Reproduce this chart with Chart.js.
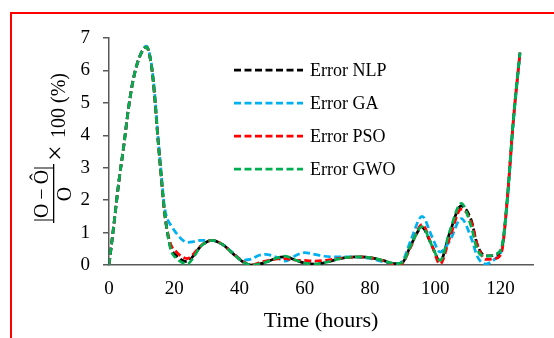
<!DOCTYPE html>
<html>
<head>
<meta charset="utf-8">
<script src="https://cdn.jsdelivr.net/npm/chart.js@4/dist/chart.umd.min.js"></script>
<style>
  html, body { margin: 0; padding: 0; background: #fff; overflow: hidden; }
</style>
</head>
<body>
<canvas id="chart" width="554" height="338"></canvas>
<script>
/* -------- DATA -------- */
const hours = [0, 1.5, 3, 4.5, 6, 7.5, 9.5, 11.5, 13, 14, 15, 16, 17, 18, 19, 20.5, 22, 24, 26, 28,
  31.5, 35, 38, 41, 43.5, 46, 48, 51, 54, 57, 60, 63, 66, 69, 72, 76, 80, 84, 88, 90,
  92.5, 96, 99, 101.5, 104.5, 108, 111, 113, 115.5, 118.5, 120.5, 122, 124, 126];

const errNLP = [0, 1.25, 2.55, 3.65, 4.85, 5.75, 6.45, 6.72, 6.15, 5.2, 3.9, 2.75, 1.65, 0.95, 0.5, 0.3, 0.17, 0.1, 0.3, 0.56,
  0.76, 0.62, 0.35, 0.1, 0, 0.03, 0.08, 0.2, 0.25, 0.16, 0.06, 0.03, 0.07, 0.15, 0.22, 0.25, 0.23, 0.14, 0.04, 0.08,
  0.6, 1.15, 0.6, 0.12, 1.0, 1.82, 1.4, 0.6, 0.28, 0.3, 0.55, 1.9, 4.5, 6.55];

const errGA = [0, 1.25, 2.55, 3.65, 4.85, 5.75, 6.45, 6.75, 6.2, 5.3, 4.0, 2.85, 1.8, 1.4, 1.22, 1.0, 0.82, 0.7, 0.72, 0.76,
  0.76, 0.62, 0.38, 0.15, 0.18, 0.3, 0.33, 0.25, 0.12, 0.28, 0.38, 0.33, 0.27, 0.25, 0.25, 0.24, 0.2, 0.1, 0.03, 0.12,
  0.75, 1.5, 0.88, 0.4, 0.75, 1.43, 0.85, 0.25, 0.03, 0.2, 0.5, 1.8, 4.4, 6.5];

const errPSO = [0, 1.25, 2.55, 3.65, 4.85, 5.75, 6.45, 6.72, 6.15, 5.2, 3.9, 2.75, 1.65, 1.0, 0.62, 0.42, 0.28, 0.2, 0.35, 0.58,
  0.76, 0.62, 0.35, 0.12, 0, 0.07, 0.12, 0.18, 0.2, 0.15, 0.14, 0.12, 0.14, 0.18, 0.22, 0.25, 0.22, 0.14, 0, 0.06,
  0.55, 1.25, 0.6, 0.03, 0.85, 1.72, 1.35, 0.6, 0.17, 0.2, 0.45, 1.9, 4.5, 6.55];

const errGWO = [0, 1.25, 2.55, 3.65, 4.85, 5.75, 6.45, 6.72, 6.15, 5.2, 3.9, 2.75, 1.65, 0.95, 0.45, 0.22, 0.1, 0.03, 0.25, 0.56,
  0.76, 0.62, 0.35, 0.1, 0, 0.03, 0.08, 0.2, 0.27, 0.16, 0.06, 0.03, 0.07, 0.15, 0.22, 0.25, 0.23, 0.14, 0.04, 0.08,
  0.6, 1.18, 0.6, 0.14, 1.05, 1.9, 1.2, 0.45, 0.27, 0.33, 0.6, 1.9, 4.5, 6.55];

const seriesNames = ["Error NLP", "Error GA", "Error PSO", "Error GWO"];
const xTicks = [0, 20, 40, 60, 80, 100, 120];
const yTicks = [0, 1, 2, 3, 4, 5, 6, 7];

/* -------- STYLE -------- */
const SERIF = '"Liberation Serif", "Times New Roman", serif';
const AXIS_GREY = '#595959';
const colors = ['#000000', '#00b0f0', '#ff0000', '#00b050'];
const dash = [7, 3.5];

const toPoints = ys => hours.map((h, i) => ({ x: h, y: ys[i] }));

/* -------- PLUGINS -------- */
// red frame round the figure
const frame = {
  id: 'frame',
  afterDraw(chart) {
    const c = chart.ctx;
    c.save();
    c.strokeStyle = '#ff0000';
    c.lineWidth = 2;
    c.strokeRect(11, 13, 700, 500);
    c.restore();
  }
};

// legend inside the plot area
const innerLegend = {
  id: 'innerLegend',
  afterDraw(chart) {
    const c = chart.ctx;
    c.save();
    chart.data.datasets.forEach((ds, i) => {
      const y = 70 + i * 33;
      c.strokeStyle = ds.borderColor;
      c.lineWidth = 2.75;
      c.setLineDash(dash);
      c.beginPath();
      c.moveTo(234, y);
      c.lineTo(303, y);
      c.stroke();
      c.setLineDash([]);
      c.fillStyle = '#000';
      c.font = '18px ' + SERIF;
      c.textBaseline = 'middle';
      c.fillText(ds.label, 310, y + 1);
    });
    c.restore();
  }
};

// y axis title: |O - Ô| / O x 100 (%)
const yTitle = {
  id: 'yTitle',
  afterDraw(chart) {
    const c = chart.ctx;
    c.save();
    c.rotate(-Math.PI / 2);
    c.fillStyle = '#000';
    c.textBaseline = 'alphabetic';
    c.textAlign = 'center';
    c.font = '20px ' + SERIF;
    c.fillText('|O\u2009\u2212\u2009Ô|', -194, 48);
    c.fillRect(-223, 53, 59, 1.3);
    c.fillText('O', -194, 71);
    // big multiplication sign, then "100 (%)"
    c.font = '28px ' + SERIF;
    c.textBaseline = 'middle';
    c.fillText('×', -153, 57);
    c.textAlign = 'left';
    c.textBaseline = 'alphabetic';
    c.font = '20px ' + SERIF;
    c.fillText('100 (%)', -138, 65);
    c.restore();
  }
};

/* -------- CHART -------- */
new Chart(document.getElementById('chart'), {
  type: 'line',
  data: {
    datasets: [errNLP, errGA, errPSO, errGWO].map((ys, i) => ({
      label: seriesNames[i],
      data: toPoints(ys),
      borderColor: colors[i],
      backgroundColor: colors[i],
      borderWidth: 2.75,
      borderDash: dash,
      pointRadius: 0,
      fill: false,
      cubicInterpolationMode: 'monotone',
      order: 3 - i
    }))
  },
  options: {
    responsive: false,
    animation: false,
    layout: { padding: { left: 0, top: 38, right: 21, bottom: 0 } },
    plugins: {
      legend: { display: false },
      tooltip: { enabled: false }
    },
    scales: {
      x: {
        type: 'linear',
        min: 0,
        max: 130,
        afterBuildTicks: s => { s.ticks = xTicks.map(v => ({ value: v })); },
        afterFit: s => { s.height = 73; },
        grid: { display: true, drawOnChartArea: false, drawTicks: false },
        border: { display: true, color: AXIS_GREY, width: 1.5 },
        ticks: { color: '#000', font: { family: SERIF, size: 19 }, padding: 13, maxRotation: 0 },
        title: {
          display: true,
          text: 'Time (hours)',
          color: '#000',
          font: { family: SERIF, size: 22 },
          padding: { top: 0 }
        }
      },
      y: {
        min: 0,
        max: 7,
        afterBuildTicks: s => { s.ticks = yTicks.map(v => ({ value: v })); },
        afterFit: s => { s.width = 109; },
        grid: { display: true, drawOnChartArea: false, drawTicks: true, tickLength: 6, color: AXIS_GREY, lineWidth: 1.5 },
        border: { display: true, color: AXIS_GREY, width: 1.5 },
        ticks: { color: '#000', font: { family: SERIF, size: 19 }, padding: 13 }
      }
    }
  },
  plugins: [frame, innerLegend, yTitle]
});
</script>
</body>
</html>
